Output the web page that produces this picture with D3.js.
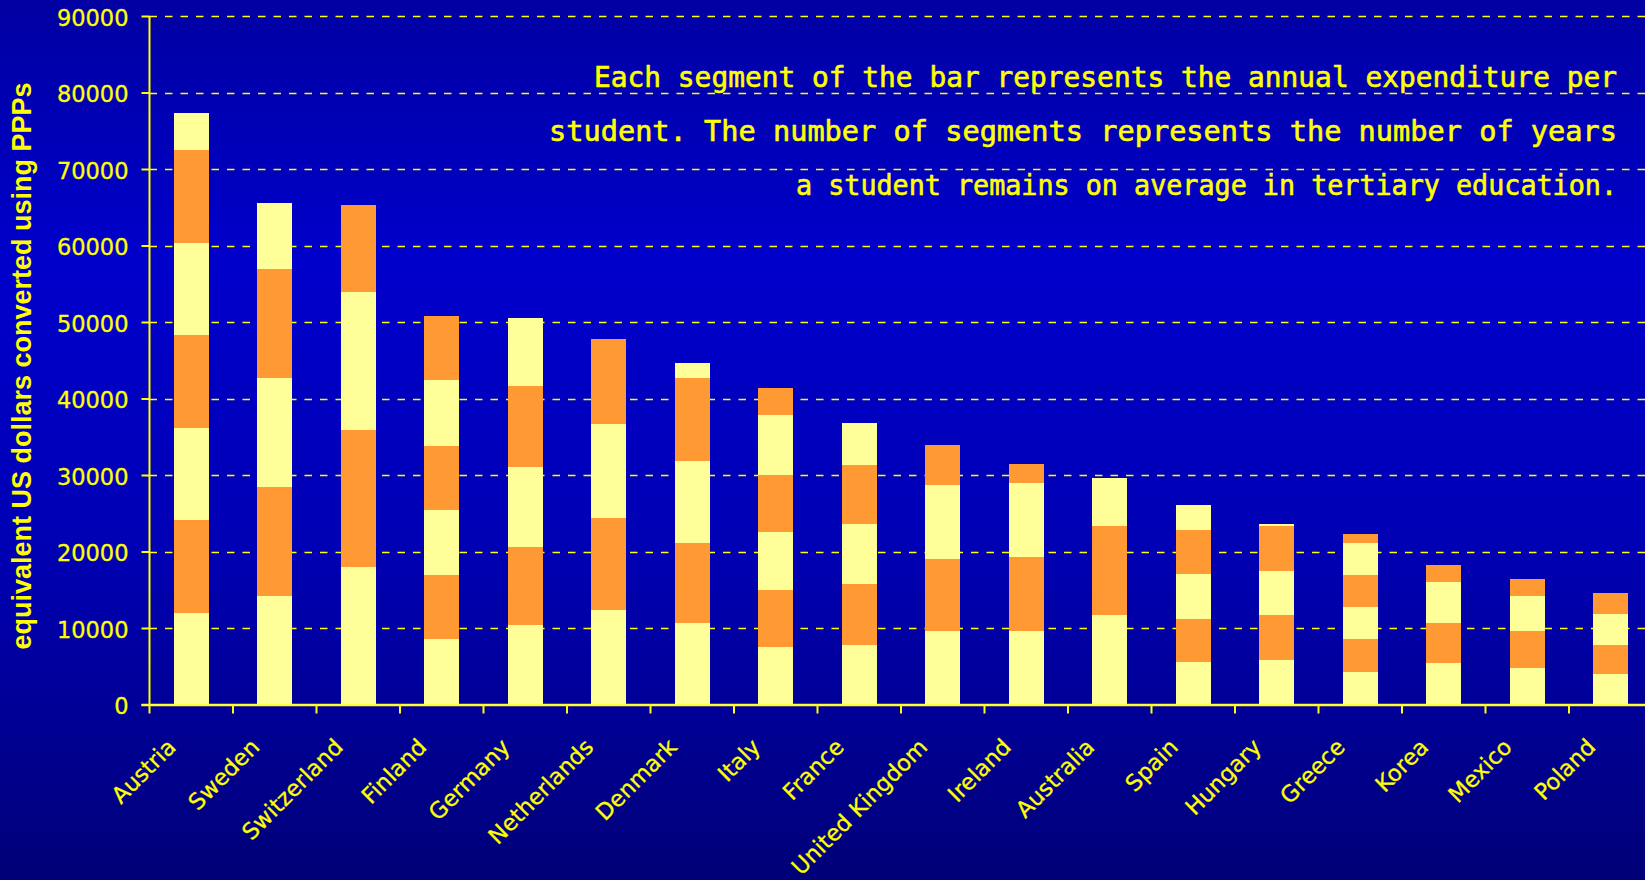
<!DOCTYPE html>
<html>
<head>
<meta charset="utf-8">
<script src="https://cdn.jsdelivr.net/npm/d3@7"></script>
<style>
html, body { margin: 0; padding: 0; overflow: hidden; background: #000080; }
</style>
</head>
<body>
<svg id="my-chart-svg"></svg>
<script>
'use strict';

//------------------------------------------------------------
// chart data
//------------------------------------------------------------
const countryNames = ["Austria", "Sweden", "Switzerland", "Finland", "Germany", "Netherlands",
                      "Denmark", "Italy", "France", "United Kingdom", "Ireland", "Australia",
                      "Spain", "Hungary", "Greece", "Korea", "Mexico", "Poland"];

// cumulative spending at the top of each yearly segment, bottom to top
const segmentTops = [
    [11960, 24120, 36140, 48300, 60330, 72480, 77320],  // Austria
    [14180, 28430, 42680, 56970, 65600],                // Sweden
    [17970, 35880, 53920, 65290],                       // Switzerland
    [8560, 16930, 25420, 33790, 42420, 50780],          // Finland
    [10390, 20590, 31050, 41630, 50520],                // Germany
    [12350, 24380, 36670, 47780],                       // Netherlands
    [10650, 21110, 31830, 42680, 44640],                // Denmark
    [7520, 14970, 22550, 30000, 37840, 41370],          // Italy
    [7780, 15750, 23590, 31310, 36800],                 // France
    [9610, 19020, 28690, 33920],                        // United Kingdom
    [9610, 19280, 28950, 31440],                        // Ireland
    [11700, 23330, 29610],                              // Australia
    [5560, 11180, 17060, 22810, 26080],                 // Spain
    [5820, 11700, 17450, 23330, 23590],                 // Hungary
    [4250, 8560, 12750, 16930, 21110, 22290],           // Greece
    [5420, 10650, 16010, 18240],                        // Korea
    [4770, 9610, 14180, 16400],                         // Mexico
    [3990, 7780, 11830, 14580]                          // Poland
];

const yTickValues = [0, 10000, 20000, 30000, 40000, 50000, 60000, 70000, 80000, 90000];

const yAxisTitle = "equivalent US dollars converted using PPPs";

const noteLines = ["Each segment of the bar represents the annual expenditure per",
                   "student. The number of segments represents the number of years",
                   "a student remains on average in tertiary education."];

{ // start scope

//------------------------------------------------------------
// chart manager
//------------------------------------------------------------
function ChartManager() {
    this.width = 1645;
    this.height = 880;

    this.plotLeft = 149.5;
    this.plotTop = 16;
    this.plotBottom = 704.5;
    this.step = 83.5;

    this.yellow = "#ffff00";
    this.segmentColors = ["#ffff99", "#ff9933"];

    this.svg = null;
    this.xScale = null;
    this.yScale = null;

    this.initialize = () => {
        this.svg = d3.select("#my-chart-svg")
            .attr("width", this.width)
            .attr("height", this.height)
            .style("display", "block");

        this.drawBackground();

        this.xScale = d3.scaleBand()
            .domain(countryNames)
            .range([this.plotLeft, this.plotLeft + this.step * countryNames.length])
            .paddingInner(0.58)
            .paddingOuter(0.29);

        this.yScale = d3.scaleLinear()
            .domain([0, 90000])
            .range([this.plotBottom, this.plotTop]);

        this.drawGrid();
        this.drawBars();
        this.drawAxes();
        this.drawNote();
    };

    this.drawBackground = () => {
        let defs = this.svg.append("defs");
        let grad = defs.append("linearGradient")
            .attr("id", "bg-grad")
            .attr("x1", 0).attr("y1", 0)
            .attr("x2", 0).attr("y2", 1);
        grad.append("stop").attr("offset", "0%").attr("stop-color", "#0000a2");
        grad.append("stop").attr("offset", "30%").attr("stop-color", "#0000cc");
        grad.append("stop").attr("offset", "62%").attr("stop-color", "#0000b4");
        grad.append("stop").attr("offset", "100%").attr("stop-color", "#000078");

        this.svg.append("rect")
            .attr("width", this.width)
            .attr("height", this.height)
            .attr("fill", "url(#bg-grad)");
    };

    this.drawGrid = () => {
        // dashed horizontal gridlines, behind the bars
        this.svg.append("g")
            .selectAll("line")
            .data(yTickValues.filter((v) => v > 0))
            .enter()
            .append("line")
            .attr("x1", this.plotLeft)
            .attr("x2", this.width)
            .attr("y1", (d) => Math.round(this.yScale(d)) + 0.5)
            .attr("y2", (d) => Math.round(this.yScale(d)) + 0.5)
            .style("stroke", this.yellow)
            .style("stroke-width", 1.6)
            .style("stroke-dasharray", "7.5,8");
    };

    this.drawBars = () => {
        // flatten the segments of every bar
        let segments = [];
        countryNames.forEach((name, i) => {
            let tops = segmentTops[i];
            for(let k = 0; k < tops.length; ++k)
            {
                segments.push({
                    country: name,
                    idx: k,
                    y0: k === 0 ? 0 : tops[k - 1],
                    y1: tops[k]
                });
            }
        });

        this.svg.append("g")
            .selectAll("rect")
            .data(segments)
            .enter()
            .append("rect")
            .attr("x", (d) => this.xScale(d.country))
            .attr("width", this.xScale.bandwidth())
            .attr("y", (d) => this.yScale(d.y1))
            .attr("height", (d) => this.yScale(d.y0) - this.yScale(d.y1))
            .attr("shape-rendering", "crispEdges")
            .style("fill", (d) => this.segmentColors[d.idx % 2]);
    };

    this.drawAxes = () => {
        // y axis
        let yAxis = d3.axisLeft(this.yScale)
            .tickValues(yTickValues)
            .tickSize(8)
            .tickPadding(13)
            .tickFormat(d3.format("d"));

        let yG = this.svg.append("g")
            .attr("transform", `translate(${this.plotLeft},0)`)
            .call(yAxis);

        yG.select(".domain").remove();
        yG.selectAll(".tick line")
            .style("stroke", this.yellow)
            .style("stroke-width", 2);
        yG.selectAll(".tick text")
            .attr("dy", "0.4em")
            .style("fill", this.yellow)
            .style("stroke", this.yellow)
            .style("stroke-width", 0.3)
            .style("font-family", "'DejaVu Sans', Verdana, sans-serif")
            .style("font-size", "22.5px");

        yG.append("line")
            .attr("x1", 0).attr("x2", 0)
            .attr("y1", this.plotTop).attr("y2", this.plotBottom)
            .style("stroke", this.yellow)
            .style("stroke-width", 2);

        // x axis: ticks sit between categories
        let xG = this.svg.append("g");
        let step = this.xScale.step();
        let bw = this.xScale.bandwidth();
        let edges = countryNames.map((c) => this.xScale(c) + bw / 2 - step / 2);
        edges.push(edges[edges.length - 1] + step);

        xG.append("line")
            .attr("x1", this.plotLeft - 8)
            .attr("x2", this.width)
            .attr("y1", this.plotBottom + 0.5)
            .attr("y2", this.plotBottom + 0.5)
            .style("stroke", "#ffff33")
            .style("stroke-width", 2.5);

        xG.selectAll("line.xtick")
            .data(edges)
            .enter()
            .append("line")
            .attr("class", "xtick")
            .attr("x1", (d) => d).attr("x2", (d) => d)
            .attr("y1", this.plotBottom)
            .attr("y2", this.plotBottom + 9)
            .style("stroke", this.yellow)
            .style("stroke-width", 2);

        xG.selectAll("text")
            .data(countryNames)
            .enter()
            .append("text")
            .attr("transform", (d) => {
                let cx = this.xScale(d) + bw / 2;
                return `translate(${cx - 14},${this.plotBottom + 44}) rotate(-45)`;
            })
            .attr("text-anchor", "end")
            .style("fill", this.yellow)
            .style("stroke", this.yellow)
            .style("stroke-width", 0.3)
            .style("font-family", "'DejaVu Sans', Verdana, sans-serif")
            .style("font-size", "22.5px")
            .text((d) => d);

        // y axis title
        this.svg.append("text")
            .attr("transform", "translate(31,366) rotate(-90)")
            .attr("text-anchor", "middle")
            .style("fill", this.yellow)
            .style("font-family", "'Liberation Sans', Arial, sans-serif")
            .style("font-weight", "bold")
            .style("font-size", "27px")
            .text(yAxisTitle);
    };

    this.drawNote = () => {
        // explanatory note, right aligned in the upper right area
        const lineBase = [86.5, 141, 195];
        const lineLen = [1023, 1068, 821];
        const rightX = 1617;

        this.svg.append("g")
            .selectAll("text")
            .data(noteLines)
            .enter()
            .append("text")
            .attr("x", (d, i) => rightX - lineLen[i])
            .attr("y", (d, i) => lineBase[i])
            .attr("textLength", (d, i) => lineLen[i])
            .attr("lengthAdjust", "spacingAndGlyphs")
            .style("fill", this.yellow)
            .style("stroke", this.yellow)
            .style("stroke-width", 0.6)
            .style("font-family", "'DejaVu Sans Mono', monospace")
            .style("font-size", "27.5px")
            .text((d) => d);
    };
}

//------------------------------------------------------------
// main onload event
//------------------------------------------------------------
window.addEventListener("load", () => {
    let cm = new ChartManager();
    cm.initialize();
});

} // end scope
</script>
</body>
</html>
